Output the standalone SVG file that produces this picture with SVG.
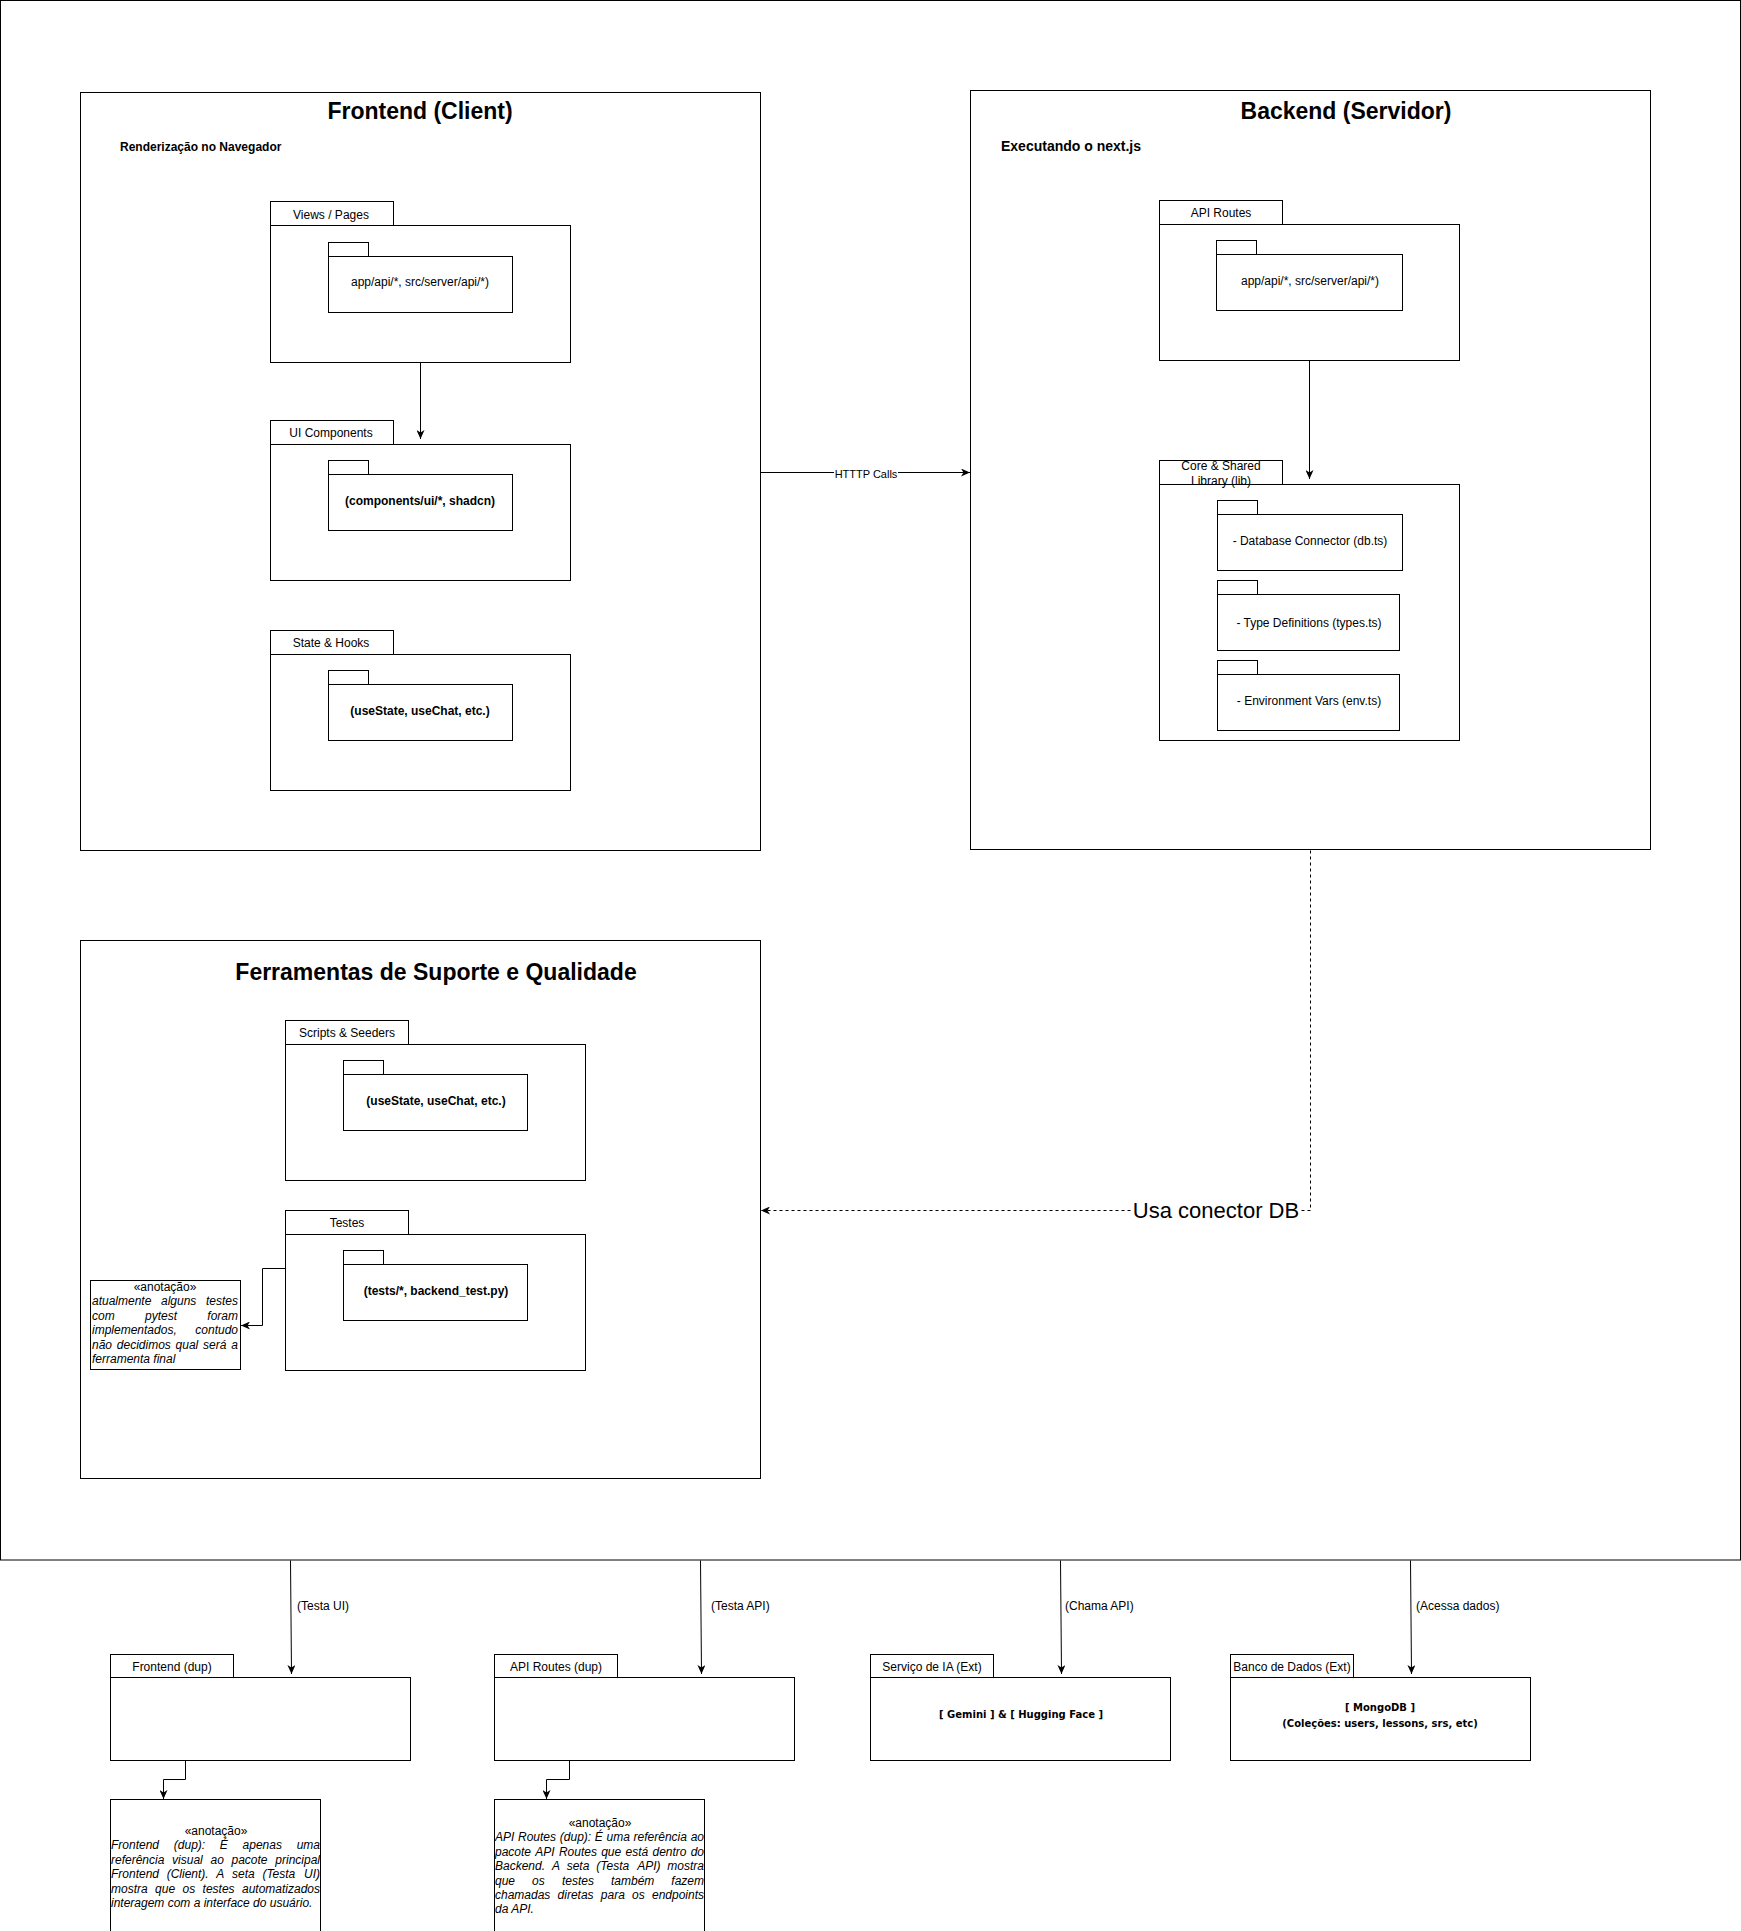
<svg xmlns="http://www.w3.org/2000/svg" width="1741" height="1931" viewBox="0 0 1741 1931">
<style>
.b{fill:#fff;stroke:#000;stroke-width:1}
.t{font-family:"Liberation Sans",Arial,sans-serif;font-size:12px;fill:#000}
.c{text-anchor:middle}
.bd{font-weight:bold}
.h{font-family:"Liberation Sans",Arial,sans-serif;font-size:23px;font-weight:bold;text-anchor:middle;fill:#000}
.sub{font-family:"Liberation Sans",Arial,sans-serif;font-size:12px;font-weight:bold;fill:#000}
.it{font-style:italic}
.dv{font-family:"DejaVu Sans",Verdana,sans-serif;font-size:10px;font-weight:bold;text-anchor:middle;fill:#000}
.ln{fill:none;stroke:#000;stroke-width:1}
.dash{fill:none;stroke:#000;stroke-width:1;stroke-dasharray:3 3}
.e{text-anchor:end}
</style>
<defs>
<marker id="arr" markerUnits="userSpaceOnUse" markerWidth="9" markerHeight="8" viewBox="0 0 9 8" refX="9" refY="4" orient="auto">
<path d="M0,0 L9,4 L0,8 L2.5,4 Z" fill="#000"/>
</marker>
</defs>
<rect width="1741" height="1931" fill="#fff"/>
<g id="outer-frame"><rect class="b" x="0.5" y="0.5" width="1740" height="1559.5"/></g>

<g id="frontend">
<rect class="b" x="80.5" y="92.5" width="680" height="758"/>
<text class="h" x="420" y="119">Frontend (Client)</text>
<text class="sub" x="120" y="151">Renderização no Navegador</text>
</g>
<g id="views-pages">
<rect class="b" x="270.5" y="201.5" width="123" height="24"/>
<rect class="b" x="270.5" y="225.5" width="300" height="137"/>
<text class="t c" x="331" y="218.5">Views / Pages</text>
<rect class="b" x="328.5" y="242.5" width="40" height="14"/>
<rect class="b" x="328.5" y="256.5" width="184" height="56"/>
<text class="t c" x="420" y="286">app/api/*, src/server/api/*)</text>
</g>
<g id="ui-components">
<rect class="b" x="270.5" y="420.5" width="123" height="24"/>
<rect class="b" x="270.5" y="444.5" width="300" height="136"/>
<text class="t c" x="331" y="437">UI Components</text>
<rect class="b" x="328.5" y="460.5" width="40" height="14"/>
<rect class="b" x="328.5" y="474.5" width="184" height="56"/>
<text class="t c bd" x="420" y="505">(components/ui/*, shadcn)</text>
</g>
<g id="state-hooks">
<rect class="b" x="270.5" y="630.5" width="123" height="24"/>
<rect class="b" x="270.5" y="654.5" width="300" height="136"/>
<text class="t c" x="331" y="647">State &amp; Hooks</text>
<rect class="b" x="328.5" y="670.5" width="40" height="14"/>
<rect class="b" x="328.5" y="684.5" width="184" height="56"/>
<text class="t c bd" x="420" y="715">(useState, useChat, etc.)</text>
</g>

<g id="backend">
<rect class="b" x="970.5" y="90.5" width="680" height="759"/>
<text class="h" x="1346" y="119">Backend (Servidor)</text>
<text class="sub" x="1001" y="151" style="font-size:14px">Executando o next.js</text>
</g>
<g id="api-routes">
<rect class="b" x="1159.5" y="200.5" width="123" height="24"/>
<rect class="b" x="1159.5" y="224.5" width="300" height="136"/>
<text class="t c" x="1221" y="217">API Routes</text>
<rect class="b" x="1216.5" y="240.5" width="40" height="14"/>
<rect class="b" x="1216.5" y="254.5" width="186" height="56"/>
<text class="t c" x="1310" y="285">app/api/*, src/server/api/*)</text>
</g>
<g id="core-lib">
<rect class="b" x="1159.5" y="460.5" width="123" height="24"/>
<rect class="b" x="1159.5" y="484.5" width="300" height="256"/>
<text class="t c" x="1221" y="470">Core &amp; Shared</text>
<text class="t c" x="1221" y="485">Library (lib)</text>
<rect class="b" x="1217.5" y="500.5" width="40" height="14"/>
<rect class="b" x="1217.5" y="514.5" width="185" height="56"/>
<text class="t c" x="1310" y="545">- Database Connector (db.ts)</text>
<rect class="b" x="1217.5" y="580.5" width="40" height="14"/>
<rect class="b" x="1217.5" y="594.5" width="182" height="56"/>
<text class="t c" x="1309" y="627">- Type Definitions (types.ts)</text>
<rect class="b" x="1217.5" y="660.5" width="40" height="14"/>
<rect class="b" x="1217.5" y="674.5" width="182" height="56"/>
<text class="t c" x="1309" y="705">- Environment Vars (env.ts)</text>
</g>

<g id="ferramentas">
<rect class="b" x="80.5" y="940.5" width="680" height="538"/>
<text class="h" x="436" y="980">Ferramentas de Suporte e Qualidade</text>
</g>
<g id="scripts-seeders">
<rect class="b" x="285.5" y="1020.5" width="123" height="24"/>
<rect class="b" x="285.5" y="1044.5" width="300" height="136"/>
<text class="t c" x="347" y="1037">Scripts &amp; Seeders</text>
<rect class="b" x="343.5" y="1060.5" width="40" height="14"/>
<rect class="b" x="343.5" y="1074.5" width="184" height="56"/>
<text class="t c bd" x="436" y="1105">(useState, useChat, etc.)</text>
</g>
<g id="testes">
<rect class="b" x="285.5" y="1210.5" width="123" height="24"/>
<rect class="b" x="285.5" y="1234.5" width="300" height="136"/>
<text class="t c" x="347" y="1227">Testes</text>
<rect class="b" x="343.5" y="1250.5" width="40" height="14"/>
<rect class="b" x="343.5" y="1264.5" width="184" height="56"/>
<text class="t c bd" x="436" y="1295">(tests/*, backend_test.py)</text>
</g>
<g id="nota-testes">
<rect class="b" x="90.5" y="1280.5" width="150" height="89"/>
<text class="t c" x="165" y="1291">«anotação»</text>
<text class="t it" y="1305.4"><tspan x="92">atualmente</tspan><tspan x="161">alguns</tspan><tspan x="238" class="e">testes</tspan></text>
<text class="t it" y="1319.8"><tspan x="92">com</tspan><tspan x="145">pytest</tspan><tspan x="238" class="e">foram</tspan></text>
<text class="t it" y="1334.2"><tspan x="92">implementados,</tspan><tspan x="238" class="e">contudo</tspan></text>
<text class="t it" y="1348.6"><tspan x="92">não</tspan><tspan x="116.8">decidimos</tspan><tspan x="175.6">qual</tspan><tspan x="203.1">será</tspan><tspan x="238" class="e">a</tspan></text>
<text class="t it" x="92" y="1363">ferramenta final</text>
</g>

<g id="frontend-dup">
<rect class="b" x="110.5" y="1654.5" width="123" height="23"/>
<rect class="b" x="110.5" y="1677.5" width="300" height="83"/>
<text class="t c" x="172" y="1670.5">Frontend (dup)</text>
</g>
<g id="api-routes-dup">
<rect class="b" x="494.5" y="1654.5" width="123" height="23"/>
<rect class="b" x="494.5" y="1677.5" width="300" height="83"/>
<text class="t c" x="556" y="1670.5">API Routes (dup)</text>
</g>
<g id="servico-ia">
<rect class="b" x="870.5" y="1654.5" width="123" height="23"/>
<rect class="b" x="870.5" y="1677.5" width="300" height="83"/>
<text class="t c" x="932" y="1670.5">Serviço de IA (Ext)</text>
<text class="dv" x="1021" y="1718">[ Gemini ] &amp; [ Hugging Face ]</text>
</g>
<g id="banco-dados">
<rect class="b" x="1230.5" y="1654.5" width="123" height="23"/>
<rect class="b" x="1230.5" y="1677.5" width="300" height="83"/>
<text class="t c" x="1292" y="1670.5">Banco de Dados (Ext)</text>
<text class="dv" x="1380" y="1711">[ MongoDB ]</text>
<text class="dv" x="1380" y="1727">(Coleções: users, lessons, srs, etc)</text>
</g>

<g id="nota-frontend-dup">
<rect class="b" x="110.5" y="1799.5" width="210" height="160"/>
<text class="t c" x="216" y="1835">«anotação»</text>
<text class="t it" y="1849.4"><tspan x="111">Frontend</tspan><tspan x="173.8">(dup):</tspan><tspan x="219.8">É</tspan><tspan x="242.6">apenas</tspan><tspan x="320" class="e">uma</tspan></text>
<text class="t it" y="1863.8"><tspan x="111">referência</tspan><tspan x="172.1">visual</tspan><tspan x="210.5">ao</tspan><tspan x="231.5">pacote</tspan><tspan x="320" class="e">principal</tspan></text>
<text class="t it" y="1878.2"><tspan x="111">Frontend</tspan><tspan x="166.7">(Client).</tspan><tspan x="216.3">A</tspan><tspan x="232">seta</tspan><tspan x="262.4">(Testa</tspan><tspan x="320" class="e">UI)</tspan></text>
<text class="t it" y="1892.6"><tspan x="111">mostra</tspan><tspan x="155.1">que</tspan><tspan x="182.5">os</tspan><tspan x="202.6">testes</tspan><tspan x="320" class="e">automatizados</tspan></text>
<text class="t it" x="111" y="1907">interagem com a interface do usuário.</text>
</g>
<g id="nota-api-dup">
<rect class="b" x="494.5" y="1799.5" width="210" height="160"/>
<text class="t c" x="600" y="1827">«anotação»</text>
<text class="t it" y="1841.4"><tspan x="495">API</tspan><tspan x="518">Routes</tspan><tspan x="559.8">(dup):</tspan><tspan x="594.8">É</tspan><tspan x="606.5">uma</tspan><tspan x="633.6">referência</tspan><tspan x="704" class="e">ao</tspan></text>
<text class="t it" y="1855.8"><tspan x="495">pacote</tspan><tspan x="535.3">API</tspan><tspan x="558.9">Routes</tspan><tspan x="601.2">que</tspan><tspan x="625.5">está</tspan><tspan x="652.5">dentro</tspan><tspan x="704" class="e">do</tspan></text>
<text class="t it" y="1870.2"><tspan x="495">Backend.</tspan><tspan x="551.9">A</tspan><tspan x="566.7">seta</tspan><tspan x="596.3">(Testa</tspan><tspan x="637.2">API)</tspan><tspan x="704" class="e">mostra</tspan></text>
<text class="t it" y="1884.6"><tspan x="495">que</tspan><tspan x="532.1">os</tspan><tspan x="561.9">testes</tspan><tspan x="611">também</tspan><tspan x="704" class="e">fazem</tspan></text>
<text class="t it" y="1899"><tspan x="495">chamadas</tspan><tspan x="557.6">diretas</tspan><tspan x="600.8">para</tspan><tspan x="632">os</tspan><tspan x="704" class="e">endpoints</tspan></text>
<text class="t it" x="495" y="1913.4">da API.</text>
</g>

<g id="connectors">
<path class="ln" d="M420.5,362.5 L420.5,439" marker-end="url(#arr)"/>
<path class="ln" d="M1309.5,360.5 L1309.5,479" marker-end="url(#arr)"/>
<path class="ln" d="M761,472.5 L970,472.5" marker-end="url(#arr)"/>
<rect x="834" y="466" width="64" height="14" fill="#fff"/>
<text class="t c" x="866" y="478" style="font-size:11px">HTTTP Calls</text>
<path class="dash" d="M1310.5,850.5 L1310.5,1210.5 L761,1210.5" marker-end="url(#arr)"/>
<rect x="1133" y="1197" width="167" height="27" fill="#fff"/>
<text class="t c" x="1216" y="1218" style="font-size:22px">Usa conector DB</text>
<path class="ln" d="M285.5,1268.5 L262.5,1268.5 L262.5,1325.5 L241,1325.5" marker-end="url(#arr)"/>
<path class="ln" d="M290.5,1560.5 L291.5,1674" marker-end="url(#arr)"/>
<text class="t" x="297" y="1610">(Testa UI)</text>
<path class="ln" d="M700.5,1560.5 L701.5,1674" marker-end="url(#arr)"/>
<text class="t" x="711" y="1610">(Testa API)</text>
<path class="ln" d="M1060.5,1560.5 L1061.5,1674" marker-end="url(#arr)"/>
<text class="t" x="1065" y="1610">(Chama API)</text>
<path class="ln" d="M1410.5,1560.5 L1411.5,1674" marker-end="url(#arr)"/>
<text class="t" x="1416" y="1610">(Acessa dados)</text>
<path class="ln" d="M185.5,1760.5 L185.5,1779.5 L163.5,1779.5 L163.5,1799" marker-end="url(#arr)"/>
<path class="ln" d="M569.5,1760.5 L569.5,1779.5 L546.5,1779.5 L546.5,1799" marker-end="url(#arr)"/>
</g>
</svg>
